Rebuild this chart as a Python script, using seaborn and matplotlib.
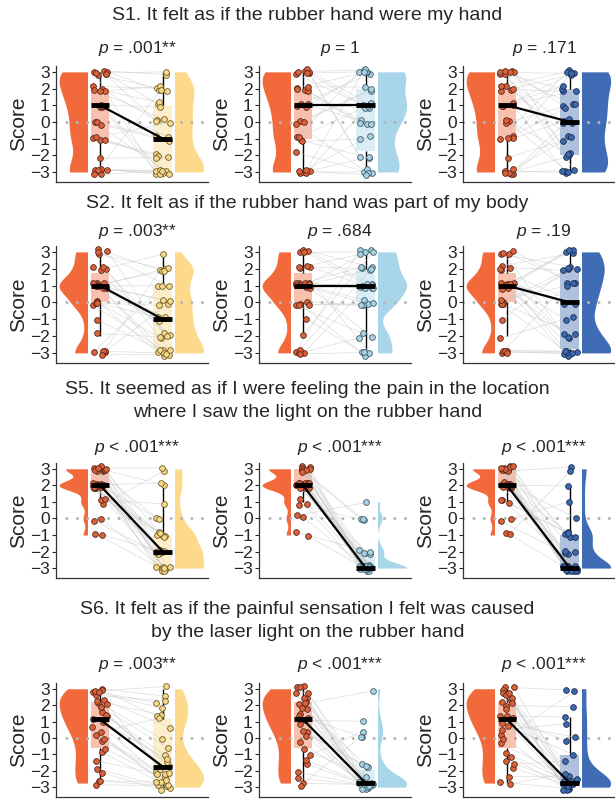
import numpy as np
import matplotlib
matplotlib.use('Agg')
import matplotlib.pyplot as plt
from matplotlib.patches import Rectangle
import seaborn as sns

# row titles and p labels
titles = [
    'S1. It felt as if the rubber hand were my hand',
    'S2. It felt as if the rubber hand was part of my body',
    'S5. It seemed as if I were feeling the pain in the location\nwhere I saw the light on the rubber hand',
    'S6. It felt as if the painful sensation I felt was caused\nby the laser light on the rubber hand',
]
p_labels = [
    [r'$p$ = .001**', r'$p$ = 1', r'$p$ = .171'],
    [r'$p$ = .003**', r'$p$ = .684', r'$p$ = .19'],
    [r'$p$ < .001***', r'$p$ < .001***', r'$p$ < .001***'],
    [r'$p$ = .003**', r'$p$ < .001***', r'$p$ < .001***'],
]

# scores per participant (orange condition is shared within a row)
s1_rhi = [3, 1, -3, 2, 0, 3, -1, 2, -3, 1, 3, -1, 2, 0, -3, 3, 1, -2, 2, -3, 3, -1, 0, 2, -3, 1, 3, -1, 3, -3]
s1_a = [-3, -1, -3, 2, -3, 1, -2, 0, -3, -3, 2, -2, 0, -1, -3, 3, -3, -2, 1, -3, 2, 0, -1, 2, -3, 1, 3, -2, 0, 2]
s1_b = [1, 3, -3, 0, 2, 1, -2, 3, -1, 1, -3, 3, 0, 2, -2, 1, 3, -3, 0, 1, 3, -1, -3, 2, 3, 0, -2, 1, 3, -3]
s1_c = [0, 3, -3, 2, -2, 1, 3, -1, 0, -3, 2, 3, -2, 1, 0, -3, 2, -1, 3, -2, 1, 0, -3, 3, -1, 2, -2, 1, 3, -3]

s2_rhi = [1, 3, 0, -3, 1, 2, 1, 0, -3, 1, 3, 1, -1, 2, 0, 1, -3, 3, 1, 0, 2, -2, 1, -3, 1, 0, 3, 2, 1, -3]
s2_a = [-1, 2, -3, 0, -3, -2, 1, -3, 2, -1, -2, 0, -3, 3, -2, -3, 1, 2, -1, 0, -3, -2, 2, -3, 0, -1, 1, -2, 2, -3]
s2_b = [1, 3, -3, 1, 0, 2, 1, -2, 3, 0, 1, 2, -3, 1, 0, 3, -2, 2, 1, 0, -3, 3, 1, 2, -2, 0, 1, 3, 2, -3]
s2_c = [0, 2, -3, 1, -3, 3, -2, 2, -3, -1, 1, -3, 2, 0, -2, 3, -3, 1, -3, 2, -2, -1, 3, -3, 0, 1, -2, 2, 3, -3]

s5_rhi = [2, 3, 2, 1, 3, 2, 2, 3, -1, 2, 3, 0, 2, 3, 2, 1, 3, 2, 2, 3, 0, 2, 3, 2, -1, 3, 2, 1, 2, 3]
s5_a = [-2, -3, -1, 3, -2, -3, 0, -1, -3, -2, 2, -3, -1, -2, -3, 1, -2, -1, -3, 3, -2, -3, 0, -1, -2, -3, 2, -1, -2, -3]
s5_b = [-3, -3, -2, -3, 0, -3, -3, -3, -2, -3, -3, 1, -3, -3, -3, 0, -3, -2, -3, -3, -3, -3, 0, -3, -3, -2, -3, -3, -3, -3]
s5_c = [-3, -1, -3, -3, 3, -2, -3, -1, -3, 0, -3, -2, -3, -3, 2, -1, -3, -3, -2, -3, 1, -1, -3, -3, 3, -2, -3, -1, -3, -3]

s6_rhi = [1.25, 3, -2.75, 2, 0.75, 2.25, -1, 1.5, 3, -0.25, 2.75, 1, -2, 2, 0.25, -2.5, 2.5, 1.25, -1.75, 3,
          0, 2.25, -0.75, 1, 2.75, -2.75, 1.75, 0.5, 2, -1.5]
s6_a = [-1.75, 2, -3, 0, -2.75, 1.25, -3, -1, 2.5, -2.5, 1.25, -2, -3, -0.75, -2.25, -2.75, 2.25, -1.5, -3, 3,
        -2.75, 0.75, -2.5, -1.25, 2, -2.75, -2, 1.25, -1.75, -2.25]
s6_b = [-2.75, -3, -2.75, -1.75, -3, -2.75, 0.5, -2.75, -3, -2.5, -2.75, 1, -3, -2.75, -1.75, -2.75, -3, 0, -2.75, -3,
        -2.75, 3, -2.5, -2.75, -3, 0.25, -2.75, -1.75, -3, -2.75]
s6_c = [-2.75, 3, -3, -2.75, -1, -2.75, -3, 1.25, -2.75, -2.5, -3, 0, -2.75, 2, -3, -2.25, -2.75, -3, -1.25, -2.75,
        3, -2.5, -2.75, 0, -3, -2, -2.75, 1, -3, -2.75]

rhi_rows = [s1_rhi, s2_rhi, s5_rhi, s6_rhi]
other_rows = [[s1_a, s1_b, s1_c], [s2_a, s2_b, s2_c], [s5_a, s5_b, s5_c], [s6_a, s6_b, s6_c]]

violin_cols = ['#F26A3C', '#FCD98B', '#A9D5E8', '#3F6CB4']
point_cols = ['#D9623C', '#F7D98C', '#A9D3E3', '#3D69AE']
edge_cols = ['#5A2618', '#6E5B24', '#3C5A68', '#1C2E52']
bw_rows = [0.7, 0.55, 0.55, 0.7]

sns.set_style('ticks')
plt.rcParams['font.family'] = ['Liberation Sans', 'DejaVu Sans']
plt.rcParams['mathtext.fontset'] = 'custom'
plt.rcParams['mathtext.it'] = 'Liberation Sans:italic'
plt.rcParams['mathtext.rm'] = 'Liberation Sans'

W, H = 615, 799
fig = plt.figure(figsize=(W / 100, H / 100), dpi=100)

row_top = [66, 246, 463, 683]
row_bot = [182, 363, 578, 797]
col_left = [56, 259, 463]
col_w = 152
title_y = [15, 203, 401, 621]
p_y = [48, 232, 447, 665]

rng = np.random.default_rng(11)


def half_violin(ax, vals, pos, color, side, bw):
    n0 = len(ax.collections)
    sns.violinplot(x=np.full(len(vals), pos), y=vals, native_scale=True, orient='x', ax=ax,
                   color=color, saturation=1, inner=None, cut=0, width=0.9, linewidth=0,
                   bw_adjust=bw, density_norm='width')
    for c in ax.collections[n0:]:
        if side == 'left':
            rect = Rectangle((pos - 1, -10), 1, 20, transform=ax.transData)
        else:
            rect = Rectangle((pos, -10), 1, 20, transform=ax.transData)
        c.set_clip_path(rect)
        c.set_zorder(1)


def half_box(ax, vals, pos, color):
    sns.boxplot(x=np.full(len(vals), pos), y=vals, native_scale=True, orient='x', ax=ax,
                color=color, saturation=1, width=0.3, showfliers=False, linecolor='black',
                boxprops=dict(alpha=0.42, linewidth=0, zorder=2),
                whiskerprops=dict(color='black', linewidth=1, zorder=2.2),
                capprops=dict(linewidth=0),
                medianprops=dict(color='black', linewidth=3.5, zorder=4, solid_capstyle='butt'))


for r in range(4):
    fig.text(0.5, 1 - title_y[r] / H, titles[r], ha='center', va='center', fontsize=14,
             linespacing=1.45)
    left = np.array(rhi_rows[r], dtype=float)
    for c in range(3):
        right = np.array(other_rows[r][c], dtype=float)
        ax = fig.add_axes([col_left[c] / W, 1 - row_bot[r] / H, col_w / W,
                           (row_bot[r] - row_top[r]) / H])
        ci = c + 1

        half_violin(ax, left, 0.8, violin_cols[0], 'left', bw_rows[r])
        half_violin(ax, right, 2.2, violin_cols[ci], 'right', bw_rows[r])
        ax.axhline(0, color='#B5B5B5', lw=2.2, ls=(0, (0.01, 3.4)), dash_capstyle='round', zorder=1.5)
        half_box(ax, left, 1, violin_cols[0])
        half_box(ax, right, 2, violin_cols[ci])

        x1 = 1 + rng.uniform(-0.12, 0.12, len(left))
        y1 = left + rng.uniform(-0.18, 0.18, len(left))
        x2 = 2 + rng.uniform(-0.12, 0.12, len(right))
        y2 = right + rng.uniform(-0.18, 0.18, len(right))
        for i in range(len(left)):
            ax.plot([x1[i], x2[i]], [y1[i], y2[i]], color='#C8C8C8', lw=0.5, alpha=0.6, zorder=2.5)
        ax.scatter(x1, y1, s=17, color=point_cols[0], edgecolor=edge_cols[0], linewidth=0.6, zorder=3)
        ax.scatter(x2, y2, s=17, color=point_cols[ci], edgecolor=edge_cols[ci], linewidth=0.6, zorder=3)
        ax.plot([1, 2], [np.median(left), np.median(right)], color='black', lw=1.6, zorder=4.5)

        ax.set_xlim(0.3, 2.72)
        ax.set_ylim(-3.6, 3.35)
        ax.set_xticks([])
        ax.set_yticks(range(-3, 4))
        ax.set_xlabel('')
        ax.set_ylabel('Score', fontsize=15, labelpad=1)
        ax.tick_params(axis='y', labelsize=12.5, length=3, pad=1.5)
        for s in ['top', 'right']:
            ax.spines[s].set_visible(False)
        for s in ['left', 'bottom']:
            ax.spines[s].set_color('#333333')
            ax.spines[s].set_linewidth(0.9)

        fig.text((col_left[c] + col_w / 2 + 5) / W, 1 - p_y[r] / H, p_labels[r][c],
                 ha='center', va='center', fontsize=12.5)

fig.savefig('out.png', dpi=100)
